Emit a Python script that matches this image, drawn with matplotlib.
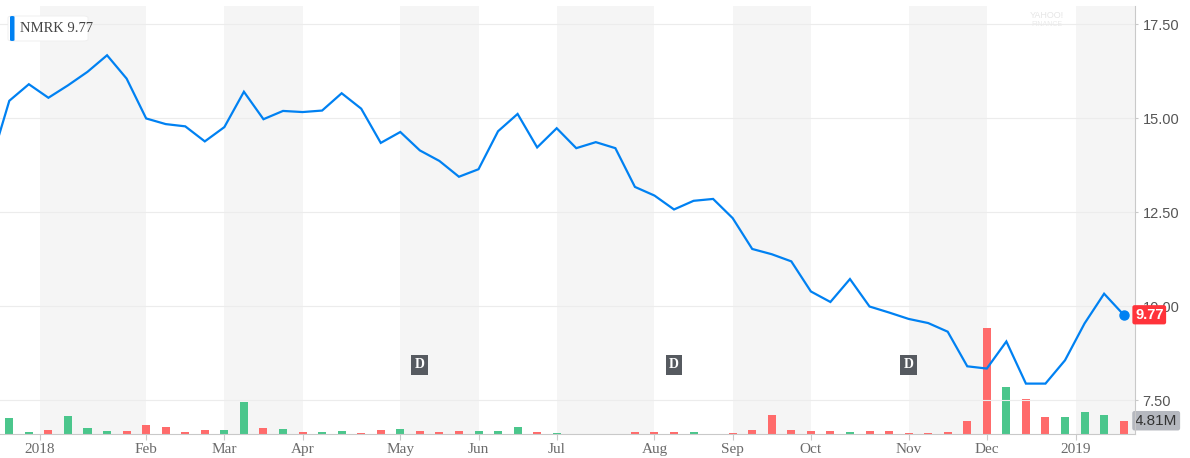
"""NMRK weekly price with volume, Yahoo-style chart. Writes out.png."""
import numpy as np
import matplotlib
matplotlib.use("Agg")
import matplotlib.pyplot as plt
import matplotlib.transforms as mtransforms
from matplotlib.patches import FancyBboxPatch

# ---- data (weekly closes, index -1 is the IPO week) ----
CLOSE = [13.72,
         15.46, 15.90, 15.54, 15.87, 16.23, 16.67, 16.05, 14.99, 14.84, 14.78,
         14.38, 14.76, 15.70, 14.97, 15.19, 15.16, 15.20, 15.66, 15.25, 14.34,
         14.63, 14.14, 13.86, 13.44, 13.64, 14.65, 15.11, 14.22, 14.73, 14.20,
         14.36, 14.20, 13.17, 12.94, 12.57, 12.80, 12.85, 12.34, 11.52, 11.38,
         11.19, 10.39, 10.11, 10.72, 9.99, 9.83, 9.66, 9.55, 9.32, 8.40,
         8.34, 9.06, 7.94, 7.94, 8.56, 9.54, 10.33, 9.77]
# weekly volume in millions, from index 0
VOLUME = [5.8, 0.7, 1.45, 6.6, 2.2, 1.1, 1.1, 3.4, 2.6, 0.7,
          1.45, 1.45, 11.6, 2.2, 1.8, 0.7, 0.7, 1.1, 0.36, 1.45,
          1.8, 1.1, 0.7, 1.1, 1.1, 1.1, 2.5, 0.7, 0.36, 0.12,
          0.12, 0.12, 0.7, 0.7, 0.7, 0.7, 0.12, 0.36, 1.45, 6.9,
          1.45, 1.2, 1.2, 0.85, 1.2, 1.2, 0.5, 0.5, 0.85, 4.8,
          38.5, 17.1, 12.8, 6.3, 6.3, 8.1, 7.0, 4.81]
MONTH_POS = [1.55, 7, 11, 15, 20, 24, 28, 33, 37, 41, 46, 50, 54.55]
MONTH_LAB = ["2018", "Feb", "Mar", "Apr", "May", "Jun", "Jul", "Aug",
             "Sep", "Oct", "Nov", "Dec", "2019"]
DIVIDEND_WEEKS = [21, 34, 46]
PRICE_TICKS = [7.5, 10.0, 12.5, 15.0, 17.5]
TICKER = "NMRK"
LAST_VOL = "4.81M"

BLUE = "#0081f2"
UP = "#4bc68c"
DOWN = "#ff6b6b"
BAND = "#f5f5f5"
GRIDC = "#ececec"
AXC = "#c9c9c9"
SERIF = "Liberation Serif"
SANS = "Liberation Sans"

close = np.array(CLOSE)
xc = np.arange(-1, len(CLOSE) - 1)
vol = np.array(VOLUME)
xv = np.arange(len(VOLUME))
up = close[1:] > close[:-1]
vcol = [UP if u else DOWN for u in up]

XL = (-0.476, 57.58)
YL = (6.60, 17.98)

fig = plt.figure(figsize=(11.9, 4.58), dpi=100)
pos = [0.0, 24 / 458, 1135 / 1190, 428 / 458]

# back axes: month bands + volume
axv = fig.add_axes(pos, zorder=0)
axv.set_xlim(*XL)
axv.set_ylim(0, vol.max() * 428 / 106.3)
for i in range(0, len(MONTH_POS), 2):
    a = MONTH_POS[i]
    b = MONTH_POS[i + 1] if i + 1 < len(MONTH_POS) else XL[1]
    axv.axvspan(a, b, color=BAND, lw=0, zorder=0)
axv.bar(xv, vol, width=0.41, color=vcol, zorder=2)
axv.axis("off")

# front axes: price
ax = fig.add_axes(pos, zorder=1)
ax.patch.set_alpha(0)
ax.set_xlim(*XL)
ax.set_ylim(*YL)
for p in PRICE_TICKS:
    ax.axhline(p, color=GRIDC, lw=0.8, zorder=0)
ax.plot(xc, close, color=BLUE, lw=1.6, solid_joinstyle="miter", zorder=3)
ax.plot(xc[-1], close[-1], "o", ms=6.5, color=BLUE, zorder=4,
        clip_on=False)

for s in ("top", "left"):
    ax.spines[s].set_visible(False)
ax.spines["right"].set_color(AXC)
ax.spines["bottom"].set_color(AXC)
ax.yaxis.tick_right()
ax.set_yticks(PRICE_TICKS)
ax.set_yticklabels([f"{p:.2f}" for p in PRICE_TICKS], fontfamily=SANS,
                   fontsize=10.5, color="#555555")
ax.tick_params(axis="y", length=2.5, color=AXC, pad=3)
ax.set_xticks(MONTH_POS)
ax.set_xticklabels(MONTH_LAB, fontfamily=SERIF, fontsize=11, color="#6b6b6b")
ax.tick_params(axis="x", length=4.5, color=AXC, pad=2)

# dividend markers
bt = mtransforms.blended_transform_factory(ax.transData, ax.transAxes)
for w in DIVIDEND_WEEKS:
    ax.text(w, 0.162, "D", transform=bt, ha="center", va="center",
            fontfamily=SERIF, fontweight="bold", fontsize=10, color="white",
            zorder=5,
            bbox=dict(boxstyle="square,pad=0.25", fc="#565a60", ec="none"))

# last price / last volume tags on the right axis
yt = mtransforms.blended_transform_factory(ax.transAxes, ax.transData)
ax.text(1.0, close[-1], f"{close[-1]:.2f}", transform=yt, ha="left",
        va="center", fontfamily=SANS, fontweight="bold", fontsize=10.5,
        color="white", zorder=6, clip_on=False,
        bbox=dict(boxstyle="round,pad=0.18,rounding_size=0.15",
                  fc="#ff333a", ec="none"))
vt = mtransforms.blended_transform_factory(axv.transAxes, axv.transData)
axv.text(1.0, vol[-1], LAST_VOL, transform=vt, ha="left", va="center",
         fontfamily=SANS, fontsize=11, color="#333333", zorder=6,
         clip_on=False,
         bbox=dict(boxstyle="round,pad=0.18,rounding_size=0.15",
                   fc="#b5b8bf", ec="none"))

# legend chip top-left
lg = FancyBboxPatch((8 / 1190, 1 - 41 / 458), 80 / 1190, 25 / 458,
                    boxstyle="round,pad=0,rounding_size=0.004",
                    transform=fig.transFigure, fc="white", ec="#eeeeee",
                    lw=0.6, zorder=10)
fig.patches.append(lg)
bar = FancyBboxPatch((10 / 1190, 1 - 41 / 458), 4.5 / 1190, 25 / 458,
                     boxstyle="round,pad=0,rounding_size=0.002",
                     transform=fig.transFigure, fc=BLUE, ec="none",
                     zorder=11)
fig.patches.append(bar)
fig.text(20 / 1190, 1 - 29 / 458, f"{TICKER} {close[-1]:.2f}",
         fontfamily=SERIF, fontsize=10.5, color="#444444", va="center",
         zorder=12)

# faint watermark
fig.text(1047 / 1190, 1 - 16 / 458, "YAHOO!", fontfamily=SANS, fontsize=6.5,
         color="#e6e6e6", ha="center", va="center")
fig.text(1047 / 1190, 1 - 24 / 458, "FINANCE", fontfamily=SANS, fontsize=5,
         color="#eaeaea", ha="center", va="center")

fig.savefig("out.png", dpi=100, facecolor="white")
